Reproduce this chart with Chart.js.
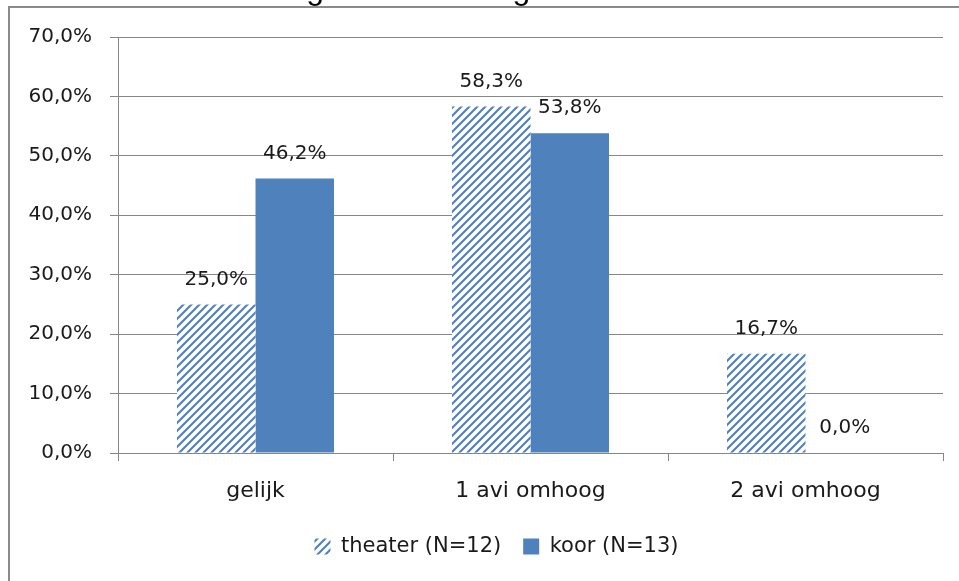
<!DOCTYPE html>
<html>
<head>
<meta charset="utf-8">
<script src="https://cdn.jsdelivr.net/npm/chart.js@4/dist/chart.umd.min.js"></script>
<style>
  html, body { margin: 0; padding: 0; background: #fff; }
  canvas { display: block; }
</style>
</head>
<body>
<canvas id="c" width="959" height="581"></canvas>
<script>
// Categories and percentages per group
const categories = ['gelijk', '1 avi omhoog', '2 avi omhoog'];
const theaterValues = [25.0, 58.3, 16.7];
const koorValues = [46.2, 53.8, 0.0];
const seriesNames = ['theater (N=12)', 'koor (N=13)'];
const yTicks = [0, 10, 20, 30, 40, 50, 60, 70];
const titleText = 'Grafiek 4: ontwikkeling in leesvaardigheid';

const BLUE = '#4F81BD';
const GRID = '#878787';
const FONT = 'DejaVu Sans';

// Diagonal hatch fill for the theater bars
function makeHatch() {
  const s = 8;
  const cv = document.createElement('canvas');
  cv.width = s; cv.height = s;
  const g = cv.getContext('2d');
  g.fillStyle = '#fff';
  g.fillRect(0, 0, s, s);
  g.strokeStyle = BLUE;
  g.lineWidth = 2.1;
  g.beginPath();
  g.moveTo(-2, s + 2); g.lineTo(s + 2, -2);
  g.moveTo(-2, 2); g.lineTo(2, -2);
  g.moveTo(s - 2, s + 2); g.lineTo(s + 2, s - 2);
  g.stroke();
  return g.createPattern(cv, 'repeat');
}
const hatch = makeHatch();

const fmt = v => v.toFixed(1).replace('.', ',') + '%';

// Value labels above each bar, plus the frame and the clipped heading
const decorations = {
  id: 'decorations',
  afterLayout(chart) {
    // legend sits slightly right of the canvas centre
    const lg = chart.legend;
    if (lg) { lg.left += 50; }
  },
  afterDatasetsDraw(chart) {
    const ctx = chart.ctx;
    ctx.save();
    ctx.font = '20px "' + FONT + '"';
    ctx.fillStyle = '#1a1a1a';
    ctx.textAlign = 'center';
    ctx.textBaseline = 'middle';
    chart.data.datasets.forEach((ds, i) => {
      chart.getDatasetMeta(i).data.forEach((bar, j) => {
        ctx.fillText(fmt(ds.data[j]), bar.x, bar.y - 25);
      });
    });
    ctx.restore();
  },
  afterDraw(chart) {
    const ctx = chart.ctx;
    ctx.save();
    ctx.strokeStyle = '#8a8a8a';
    ctx.lineWidth = 2;
    ctx.beginPath();
    ctx.moveTo(9, chart.height);
    ctx.lineTo(9, 7);
    ctx.lineTo(chart.width, 7);
    ctx.stroke();
    ctx.font = '32px "Liberation Sans"';
    ctx.fillStyle = '#000';
    ctx.textAlign = 'left';
    ctx.textBaseline = 'alphabetic';
    ctx.fillText(titleText, 2, -1);
    ctx.restore();
  }
};

new Chart(document.getElementById('c'), {
  type: 'bar',
  data: {
    labels: categories,
    datasets: [
      { label: seriesNames[0], data: theaterValues, backgroundColor: hatch, borderWidth: 0 },
      { label: seriesNames[1], data: koorValues, backgroundColor: BLUE, borderWidth: 0 }
    ]
  },
  options: {
    responsive: false,
    animation: false,
    devicePixelRatio: 1,
    layout: { padding: { top: 37, right: 16, bottom: 14, left: 0 } },
    datasets: { bar: { categoryPercentage: 0.571, barPercentage: 1.0 } },
    scales: {
      x: {
        grid: { offset: true, drawOnChartArea: false, drawTicks: true, tickLength: 8, color: GRID },
        border: { color: GRID, width: 1 },
        ticks: { font: { family: FONT, size: 22 }, color: '#1a1a1a', padding: 17 },
        afterFit(scale) { scale.height = 61; }
      },
      y: {
        min: 0,
        max: 70,
        afterBuildTicks(scale) { scale.ticks = yTicks.map(v => ({ value: v })); },
        grid: { color: GRID, tickLength: 8 },
        border: { color: GRID, width: 1 },
        ticks: {
          font: { family: FONT, size: 20 },
          color: '#1a1a1a',
          padding: 18,
          callback: v => fmt(v)
        },
        afterFit(scale) { scale.width = 118; }
      }
    },
    plugins: {
      legend: {
        position: 'bottom',
        labels: {
          font: { family: FONT, size: 21 },
          color: '#1a1a1a',
          boxWidth: 16,
          boxHeight: 16,
          padding: 22
        }
      },
      tooltip: { enabled: false }
    }
  },
  plugins: [decorations]
});
</script>
</body>
</html>
